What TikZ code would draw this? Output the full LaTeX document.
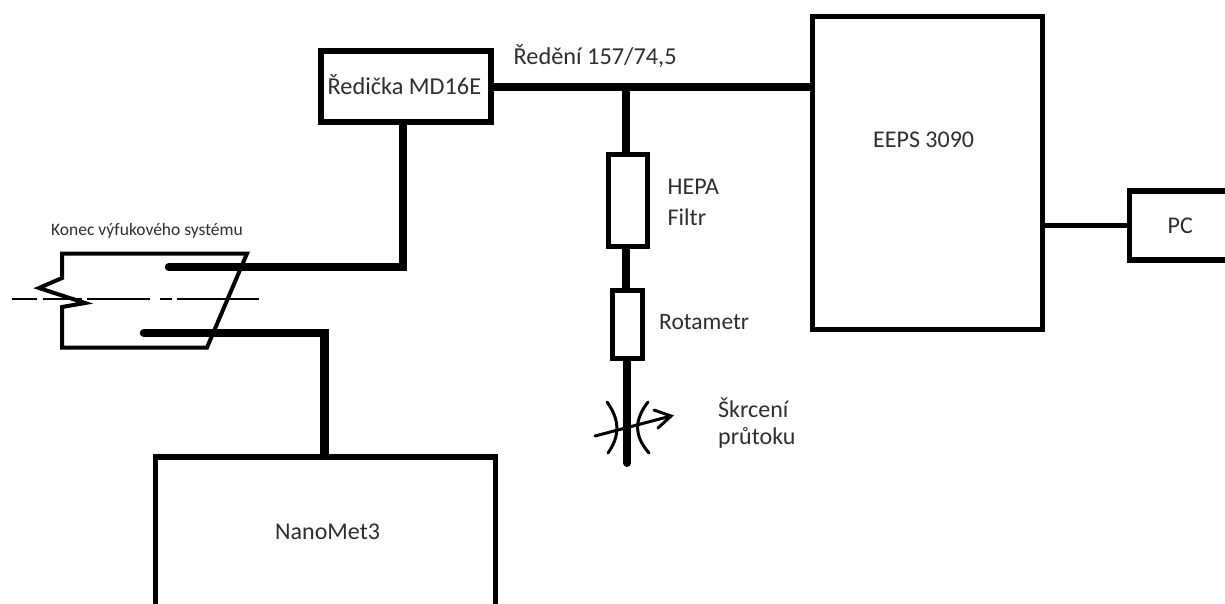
\documentclass[tikz,border=0pt]{standalone}
\usepackage{fontspec}
\setmainfont{Carlito}
\usetikzlibrary{arrows.meta,calc}
\tikzset{
 px/.style={x=1pt,y=-1pt},
 box/.style={draw=black,line width=#1,rectangle,inner sep=0pt,outer sep=0pt,anchor=north west},
 box/.default=5pt,
 pipe/.style={line width=8.5pt,line cap=butt,line join=miter},
 thinpipe/.style={line width=5.5pt},
 lbl/.style={font=\fontsize{24}{28}\selectfont,inner sep=0pt,text=black!82,align=left,anchor=west},
 outline/.style={line width=4pt,line join=miter,line cap=round},
 sketch/.style={line width=3pt,line cap=round},
}
\begin{document}
\begin{tikzpicture}[px]
\useasboundingbox (0,0) rectangle (1225,603);
\clip (0,0) rectangle (1225,603);
\fill[white] (0,0) rectangle (1225,603);
% boxes
\node[box=5.5pt,minimum width=170pt,minimum height=71pt] (red) at (321,51) {};
\node[box=5pt,minimum width=230pt,minimum height=313pt] (eeps) at (812.5,16.5) {};
\node[box=5.5pt,minimum width=120pt,minimum height=69pt] (pc) at (1129.5,191) {};
\node[box=5.5pt,minimum width=340pt,minimum height=170pt] (nano) at (155.5,457) {};
\node[box=5pt,minimum width=39pt,minimum height=92pt] (hepa) at (608.5,154.5) {};
\node[box=5pt,minimum width=30pt,minimum height=67.5pt] (rota) at (612.5,290.5) {};
% anchors
\coordinate (tee) at (626,87);
\coordinate (mix) at (403,267);
\coordinate (in1) at (169,267);
\coordinate (in2) at (144,333);
\coordinate (bend) at (324.5,333);
\coordinate (throttle) at (627,463);
\coordinate (c1) at (62,253.5);
\coordinate (c2) at (247,253.5);
\coordinate (c3) at (207,347.5);
\coordinate (c4) at (62,347.5);
% exhaust outline
\draw[outline] (c2) -- (c3) -- (c4) -- (62,307) -- (85,303) -- (39,288) -- (62,278) -- (c1) -- cycle;
\draw[line width=1.2pt,dash pattern=on 25pt off 6pt on 39pt off 5pt on 63pt off 10pt on 12pt off 5pt on 90pt off 20pt] (12,299) -- (259,299);
% pipes
\draw[pipe] ([yshift=-2pt]red.south -| mix) -- (mix) -- (in1);
\draw[pipe,line cap=round] (in1) -- ++(1,0);
\draw[pipe] ($(red.east |- tee)+(-3,0)$) -- (tee -| eeps.west);
\draw[pipe,line width=8pt] (tee) -- (tee |- hepa.north);
\draw[pipe,line width=8pt] (hepa.south -| tee) -- (rota.north -| tee);
\draw[pipe,line width=8pt] (rota.south -| throttle) -- (throttle);
\draw[pipe,line width=8pt,line cap=round] ($(throttle)+(0,-2)$) -- (throttle);
\draw[pipe] (in2) -- (bend) -- (bend |- nano.north);
\draw[pipe,line cap=round] (in2) -- ++(1,0);
\draw[thinpipe] (1042.5,225.5) -- (pc.west |- 1042.5,225.5);
% labels
\node[lbl,font=\fontsize{24.3}{29}\selectfont] (l1) at (327.5,85) {Ředička MD16E};
\node[lbl,font=\fontsize{24.3}{29}\selectfont] (l2) at (513.5,56) {Ředění 157/74,5};
\node[lbl] (l3) at (873,140) {EEPS 3090};
\node[lbl] (l4) at (1167.5,226) {PC};
\node[lbl] (l5) at (275,532) {NanoMet3};
\node[lbl] (l6) at (667.5,187) {HEPA};
\node[lbl] (l7) at (667.5,217) {Filtr};
\node[lbl,font=\fontsize{23.5}{28}\selectfont] (l8) at (659,322) {Rotametr};
\node[lbl] (l9) at (718,408) {Škrcení};
\node[lbl] (l10) at (718,438) {průtoku};
\node[font=\fontsize{17.5}{20}\selectfont,inner sep=0pt,text=black!82,anchor=west] (l11) at (51,231) {Konec výfukového systému};
% throttle symbol
\draw[sketch] (607,402) .. controls (620,420) and (620,436) .. (608,453);
\draw[sketch] (648,402) .. controls (634,420) and (634,436) .. (649,453);
\draw[sketch] (595,436) -- (671,416);
\draw[sketch] (654,410) -- (671,416) -- (658,428);
\end{tikzpicture}
\end{document}
